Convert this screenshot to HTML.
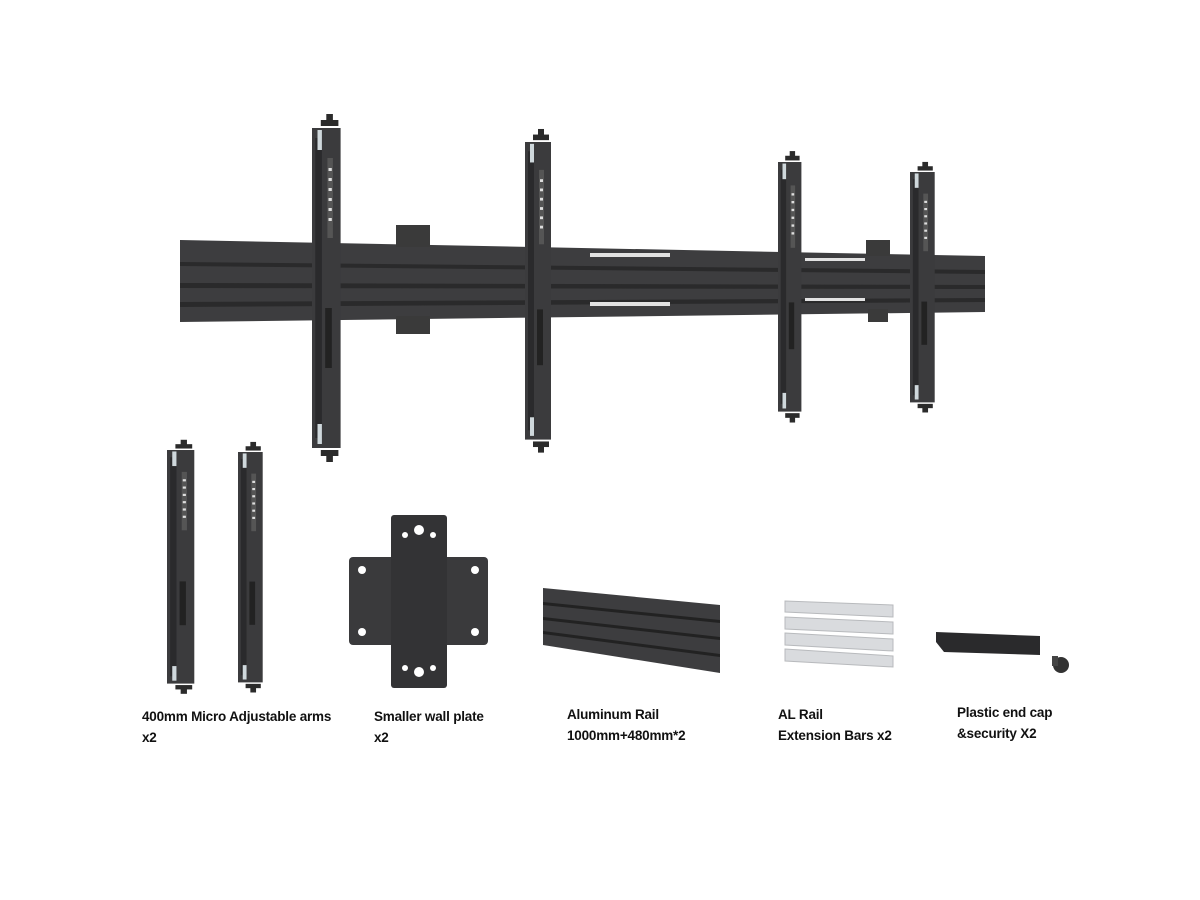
<!DOCTYPE html>
<html><head><meta charset="utf-8"><style>
html,body{margin:0;padding:0;background:#fff;}
body{width:1200px;height:900px;position:relative;overflow:hidden;font-family:"Liberation Sans",sans-serif;}
.l{position:absolute;font-weight:bold;font-size:13.5px;line-height:21px;color:#111;letter-spacing:-0.2px;}
</style></head><body>
<svg width="1200" height="900" style="position:absolute;left:0;top:0">
<defs>
<g id="arm">
<rect x="0" y="0" width="26" height="320" fill="#3b3b3d"/>
<rect x="3" y="10" width="6" height="300" fill="#2a2a2c"/>
<rect x="14" y="30" width="5" height="80" fill="#555" />
<g fill="#ddd"><rect x="15" y="40" width="3" height="3"/><rect x="15" y="50" width="3" height="3"/><rect x="15" y="60" width="3" height="3"/><rect x="15" y="70" width="3" height="3"/><rect x="15" y="80" width="3" height="3"/><rect x="15" y="90" width="3" height="3"/></g>
<rect x="12" y="180" width="6" height="60" fill="#222"/>
<rect x="8" y="-8" width="16" height="6" fill="#2b2b2b"/>
<rect x="13" y="-14" width="6" height="8" fill="#2b2b2b"/>
<rect x="8" y="322" width="16" height="6" fill="#2b2b2b"/>
<rect x="13" y="326" width="6" height="8" fill="#2b2b2b"/>
<rect x="5" y="2" width="4" height="20" fill="#cfd8dc"/>
<rect x="5" y="296" width="4" height="20" fill="#cfd8dc"/>
</g>
</defs>
<!-- main rail -->
<polygon points="180,240 985,256 985,312 180,322" fill="#3d3d3f"/>
<polygon points="180,262 985,270 985,274 180,266" fill="#2a2a2b"/>
<polygon points="180,283 985,285 985,289 180,288" fill="#2a2a2b"/>
<polygon points="180,302 985,298 985,302 180,307" fill="#2a2a2b"/>
<rect x="590" y="253" width="80" height="4" fill="#e2e2e2"/>
<rect x="590" y="302" width="80" height="4" fill="#e2e2e2"/>
<rect x="805" y="258" width="60" height="3" fill="#e2e2e2"/>
<rect x="805" y="298" width="60" height="3" fill="#e2e2e2"/>
<!-- wall plates -->
<rect x="396" y="225" width="34" height="22" fill="#3a3a3a"/>
<rect x="396" y="316" width="34" height="18" fill="#3a3a3a"/>
<rect x="866" y="240" width="24" height="16" fill="#3a3a3a"/>
<rect x="868" y="309" width="20" height="13" fill="#3a3a3a"/>
<!-- arms -->
<use href="#arm" transform="translate(312,128) scale(1.1,1)"/>
<use href="#arm" transform="translate(525,142) scale(1,0.93)"/>
<use href="#arm" transform="translate(778,162) scale(0.9,0.78)"/>
<use href="#arm" transform="translate(910,172) scale(0.95,0.72)"/>
<!-- bottom arms -->
<use href="#arm" transform="translate(167,450) scale(1.05,0.73)"/>
<use href="#arm" transform="translate(238,452) scale(0.95,0.72)"/>
<!-- wall plate cross -->
<rect x="349" y="557" width="139" height="88" rx="4" fill="#3a3a3c"/>
<rect x="391" y="515" width="56" height="173" rx="3" fill="#333335"/>
<g fill="#fff"><circle cx="362" cy="570" r="4"/><circle cx="475" cy="570" r="4"/><circle cx="362" cy="632" r="4"/><circle cx="475" cy="632" r="4"/><circle cx="419" cy="530" r="5"/><circle cx="419" cy="672" r="5"/><circle cx="405" cy="535" r="3"/><circle cx="433" cy="535" r="3"/><circle cx="405" cy="668" r="3"/><circle cx="433" cy="668" r="3"/></g>
<!-- aluminum rail -->
<polygon points="543,588 720,605 720,673 543,645" fill="#3d3d3f"/>
<polygon points="543,602 720,620 720,623 543,605" fill="#222"/>
<polygon points="543,617 720,637 720,640 543,620" fill="#222"/>
<polygon points="543,631 720,654 720,657 543,634" fill="#222"/>
<!-- extension bars -->
<g fill="#d9dbde" stroke="#b8babd">
<polygon points="785,601 893,605 893,617 785,612"/>
<polygon points="785,617 893,622 893,634 785,629"/>
<polygon points="785,633 893,639 893,651 785,645"/>
<polygon points="785,649 893,656 893,667 785,661"/>
</g>
<!-- end cap -->
<polygon points="936,632 1040,636 1040,655 944,652 936,642" fill="#2a2a2c"/>
<circle cx="1061" cy="665" r="8" fill="#333"/>
<rect x="1052" y="656" width="6" height="10" fill="#444"/>
</svg>
<div class="l" style="left:142px;top:706px">400mm Micro Adjustable arms<br>x2</div>
<div class="l" style="left:374px;top:706px">Smaller wall plate<br>x2</div>
<div class="l" style="left:567px;top:704px">Aluminum Rail<br>1000mm+480mm*2</div>
<div class="l" style="left:778px;top:704px">AL Rail<br>Extension Bars x2</div>
<div class="l" style="left:957px;top:702px">Plastic end cap<br>&amp;security X2</div>
</body></html>
